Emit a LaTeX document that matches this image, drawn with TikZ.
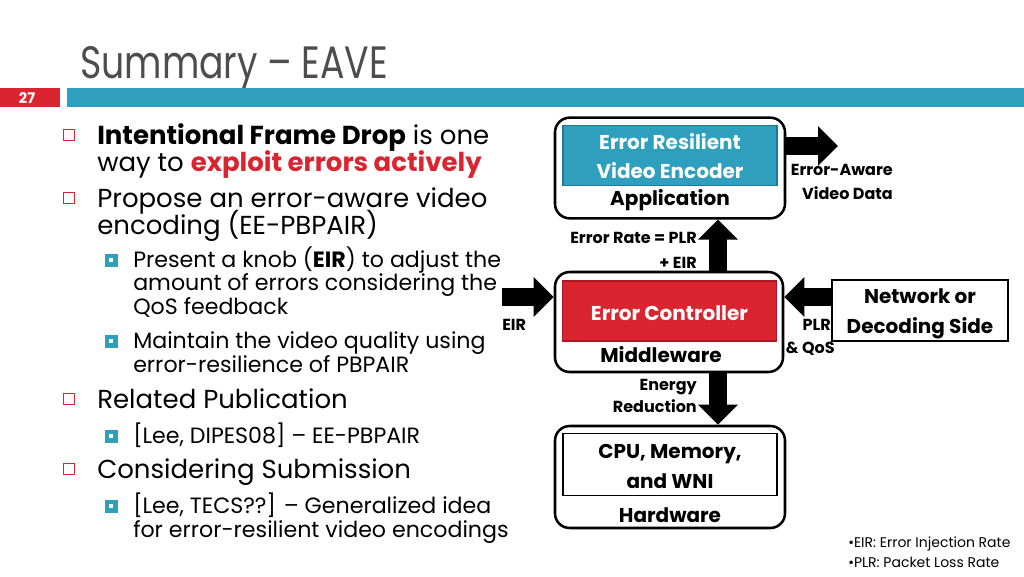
\documentclass[tikz,border=0pt]{standalone}
\usepackage{fontspec}
\setmainfont[Ligatures=NoCommon]{Poppins}
\newfontfamily\titlefont[FakeStretch=0.8,Ligatures=NoCommon]{Poppins}
\usetikzlibrary{arrows.meta}
\definecolor{teal1}{RGB}{46,159,189}
\definecolor{tealdk}{RGB}{30,120,150}
\definecolor{red1}{RGB}{218,37,49}
\definecolor{reddk}{RGB}{170,25,35}
\definecolor{titlegray}{RGB}{77,77,77}
\begin{document}
\begin{tikzpicture}[x=0.75pt,y=-0.75pt,
  txt/.style={inner sep=0pt,anchor=base west},
  main/.style={txt,font=\fontsize{19.5}{23}\selectfont},
  sub/.style={txt,font=\fontsize{16.6}{20}\selectfont},
  redbul/.style={draw=red1,line width=1.1pt,fill=white,minimum size=8.5pt,inner sep=0pt},
  tealbul/.style={fill=teal1,minimum size=9.75pt,inner sep=0pt,
    path picture={\fill[white] ([shift={(-1.6pt,-1.6pt)}]path picture bounding box.center) rectangle ++(3.2pt,3.2pt);}},
  layer/.style={draw=black,line width=1.9pt,rounded corners=11pt,fill=white},
  lbl/.style={inner sep=0pt,anchor=base,font=\bfseries\fontsize{15}{18}\selectfont},
  small/.style={inner sep=0pt,font=\bfseries\fontsize{12}{14}\selectfont},
  bigarrow/.style={line width=14pt,-{Triangle[length=15pt,width=29pt]}}
]
\useasboundingbox (0,0) rectangle (1024,576);
% title
\node[txt,font=\titlefont\fontsize{34}{40}\selectfont,text=titlegray] (title) at (80,78) {Summary – EAVE};
\fill[red1] (0,88) rectangle (60,107);
\node[inner sep=0pt,text=white,font=\bfseries\fontsize{11}{13}\selectfont] (num) at (27,98) {27};
\fill[teal1] (67,88) rectangle (1024,107);
% bullets
\node[redbul] (b1) at (69,135) {};
\node[main] (t1a) at (97,144) {\textbf{Intentional Frame Drop} is one};
\node[main] (t1b) at (97,171) {way to \textcolor{red1}{\textbf{exploit errors actively}}};
\node[redbul] (b2) at (69,198) {};
\node[main] (t2a) at (97,207) {Propose an error-aware video};
\node[main] (t2b) at (97,234) {encoding (EE-PBPAIR)};
\node[tealbul] (s1) at (111,260) {};
\node[sub] (s1a) at (133,267) {Present a knob (\textbf{EIR}) to adjust the};
\node[sub] (s1b) at (133,290) {amount of errors considering the};
\node[sub] (s1c) at (133,314) {QoS feedback};
\node[tealbul] (s2) at (111,341) {};
\node[sub] (s2a) at (133,348) {Maintain the video quality using};
\node[sub] (s2b) at (133,372) {error-resilience of PBPAIR};
\node[redbul] (b3) at (69,399) {};
\node[main] (t3) at (97,408) {Related Publication};
\node[tealbul] (s3) at (111,436) {};
\node[sub] (s3a) at (133,443) {[Lee, DIPES08] – EE-PBPAIR};
\node[redbul] (b4) at (69,469) {};
\node[main] (t4) at (97,478) {Considering Submission};
\node[tealbul] (s4) at (111,506) {};
\node[sub] (s4a) at (133,513) {[Lee, TECS??] – Generalized idea};
\node[sub] (s4b) at (133,537) {for error-resilient video encodings};
% diagram layers
\node[layer,minimum width=172.5pt,minimum height=75.5pt] (app) at (670,168) {};
\node[draw=tealdk,fill=teal1,line width=0.8pt,minimum width=160.5pt,minimum height=45.5pt,inner sep=0pt] (enc) at (670,155.5) {};
\node[lbl,text=white] (enc1) at (670,149) {Error Resilient};
\node[lbl,text=white] (enc2) at (670,178) {Video Encoder};
\node[lbl] (appl) at (670,205) {Application};

\node[layer,minimum width=171pt,minimum height=75pt] (mid) at (669,322) {};
\node[draw=reddk,fill=red1,line width=0.8pt,minimum width=161pt,minimum height=45pt,inner sep=0pt] (ctl) at (669.5,311) {};
\node[lbl,text=white] (ctl1) at (669.5,320) {Error Controller};
\node[lbl] (midl) at (661,362) {Middleware};

\node[layer,minimum width=172.5pt,minimum height=76.5pt] (hw) at (670,477) {};
\node[draw=black,fill=white,line width=1.4pt,minimum width=160.5pt,minimum height=46.5pt,inner sep=0pt] (cpu) at (670,464.5) {};
\node[lbl] (cpu1) at (670,458) {CPU, Memory,};
\node[lbl] (cpu2) at (670,488) {and WNI};
\node[lbl] (hwl) at (670,522) {Hardware};

\node[draw=black,fill=white,line width=1.4pt,minimum width=132pt,minimum height=45.5pt,inner sep=0pt] (net) at (920,310.5) {};
\node[lbl] (net1) at (920,303) {Network or};
\node[lbl] (net2) at (920,333) {Decoding Side};

% arrows
\coordinate (outtip) at (838,146);
\coordinate (eirsrc) at (502,297);
\draw[bigarrow] (app.east |- outtip) -- (outtip);
\draw[bigarrow] (mid.north -| 718,0) -- (app.south -| 718,0);
\draw[bigarrow] (mid.south -| 718,0) -- (hw.north -| 718,0);
\draw[bigarrow] (eirsrc) -- (mid.west |- eirsrc);
\draw[bigarrow] (net.west |- eirsrc) -- (mid.east |- eirsrc);

% arrow labels
\node[small,anchor=base east] (ea1) at (893,175) {Error-Aware};
\node[small,anchor=base east] (ea2) at (893,199) {Video Data};
\node[small,anchor=base east] (er1) at (697,243) {Error Rate = PLR};
\node[small,anchor=base east] (er2) at (697,268) {+ EIR};
\node[small,anchor=base west] (eirl) at (502,330) {EIR};
\node[small,anchor=base east] (plr1) at (831,330) {PLR};
\node[small,anchor=base east] (plr2) at (835,353) {\& QoS};
\node[small,anchor=base east] (en1) at (697,390) {Energy};
\node[small,anchor=base east] (en2) at (697,412) {Reduction};

% footnotes
\node[txt,font=\fontsize{10.5}{12}\selectfont] (fn1) at (848,547) {•EIR: Error Injection Rate};
\node[txt,font=\fontsize{10.5}{12}\selectfont] (fn2) at (848,567) {•PLR: Packet Loss Rate};
\end{tikzpicture}
\end{document}
